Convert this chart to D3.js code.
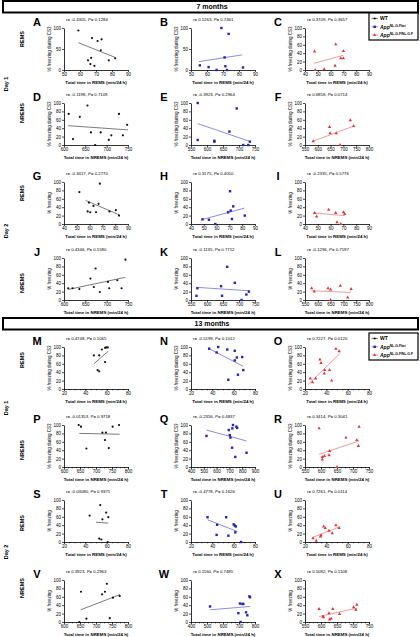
<!DOCTYPE html>
<html><head><meta charset="utf-8">
<script src="https://cdn.jsdelivr.net/npm/d3@7"></script>
<style>body{margin:0;background:#fff} svg{display:block} text{font-family:"Liberation Sans",Arial,sans-serif}</style>
</head><body><svg id="c" width="420" height="637"></svg>
<script>
// ---------- DATA ----------
const sectionTitles = ["7 months", "13 months"];
const rowNames = ["REMS","NREMS","REMS","NREMS","REMS","NREMS","REMS","NREMS"];
const dayNames = ["Day 1","Day 2","Day 1","Day 2"];
const panelLetters = ["A","B","C","D","E","F","G","H","I","J","K","L","M","N","O","P","Q","R","S","T","U","V","W","X"];
const statR = ["-0.4305","0.1263","0.3709","-0.1198","-0.3923","0.6858","-0.3417","0.3175","-0.2335","0.4346","-0.1135","-0.1296",
               "0.4748","-0.5199","0.7227","-0.01353","-0.2356","0.3414","-0.03080","-0.4778","0.7261","0.3923","0.1160","0.5082"];
const statP = ["0.1284","0.7461","0.3657","0.7109","0.2964","0.0714","0.2770","0.4050","0.5776","0.1580","0.7712","0.7597",
               "0.1065","0.1012","0.0120","0.9718","0.4837","0.3041","0.9371","0.1626","0.0114","0.2963","0.7485","0.1108"];
const yLabels = ["% freezing during CS3","% freezing during CS3","% freezing","% freezing",
                 "% freezing during CS3","% freezing during CS3","% freezing","% freezing"];
const xLabels = ["Total time in REMS (min/24 h)","Total time in NREMS (min/24 h)"];
const legendNames = ["WT","App","App"];
const legendSups = ["","NL-G-F/wt","NL-G-F/NL-G-F"];

const ticks50_90 = [50,60,70,80,90], ticks40_90 = [40,50,60,70,80,90];
const ticks600_750 = [600,650,700,750], ticks550_750 = [550,600,650,700,750], ticks550_800 = [550,600,650,700,750,800];
const ticks20_80 = [20,40,60,80], ticks600_800 = [600,650,700,750,800], ticks400_900 = [400,500,600,700,800,900], ticks400_800 = [400,500,600,700,800];
const xTickSets = [ticks50_90,ticks50_90,ticks40_90, ticks600_750,ticks550_750,ticks550_800,
                   ticks40_90,ticks40_90,ticks40_90, ticks600_750,ticks550_750,ticks550_800,
                   ticks20_80,ticks20_80,ticks20_80, ticks600_800,ticks400_900,ticks550_750,
                   ticks20_80,ticks20_80,ticks20_80, ticks600_800,ticks400_800,ticks550_750];
const yTicks50 = [0,50,100], yTicks20 = [0,20,40,60,80,100];

const ptsA = [[59,94],[65,23],[66.5,14],[67,29],[67.5,76],[69,10],[71,69],[73,47],[73.5,73],[78,23],[82,28]];
const ptsB = [[55.5,11],[61,7],[66,0],[69,100],[71,30],[71.5,9],[72.5,0],[73.5,86],[82.5,6]];
const ptsC = [[47.5,44],[48,0],[55,2],[63.5,10],[64,61],[68,28],[70,28],[70,45]];
const ptsD = [[611,74],[621,14],[637,67],[655,94],[663,30],[673,0],[686,30],[705,12],[711,23],[729,74],[738,23],[748,48]];
const ptsE = [[571,100],[571,12],[623,10],[623,8],[670,32],[693,87],[713,0],[729,0],[734,8]];
const ptsF = [[582,9],[646,43],[648,28],[672,28],[687,0],[727,59],[740,45]];
const ptsG = [[52,76],[58.5,30],[59.5,51],[60.5,28],[63,43],[65,28],[68,96],[67,48],[75.5,30],[80.5,33],[83,20]];
const ptsH = [[49,11],[54,10],[59,0],[69,28],[70.5,78],[71,32],[72,12],[73,42],[82,20]];
const ptsI = [[47.5,26],[49,18],[58.5,34],[64,26],[65,4],[68,0],[70,28],[71,24]];
const ptsJ = [[610,28],[620,28],[636,26],[662,51],[670,31],[674,75],[684,19],[703,43],[706,28],[725,47],[735,28],[744,96]];
const ptsK = [[567,10],[570,28],[644,33],[647,10],[663,79],[687,41],[708,0],[723,13],[731,20]];
const ptsL = [[576,28],[586,20],[640,28],[650,25],[650,0],[688,34],[717,6],[730,26]];
const ptsM = [[48,80],[51.5,45],[53,42],[53,80],[55.5,94],[58.5,64],[58.5,98],[59.5,99],[61,99]];
const ptsN = [[37,96],[44,87],[45.5,100],[54,94],[55,22],[61,91],[61,68],[63,75],[64,34],[68,76],[69,45]];
const ptsO = [[25,25],[27,16],[30,25],[34,70],[35,62],[38,37],[38.5,45],[43,45],[45,20],[49,96],[52,90]];
const ptsP = [[646,100],[653,96],[670,44],[720,82],[728,64],[731,82],[740,45],[752,96],[772,100]];
const ptsQ = [[521,74],[695,88],[703,76],[708,70],[721,46],[723,92],[728,100],[746,24],[754,96],[761,93],[834,34]];
const ptsR = [[594,92],[604,24],[604,18],[611,26],[625,28],[627,38],[650,0],[678,70],[712,64],[717,50],[719,96]];
const ptsS = [[44,63],[53,8],[54,88],[55,6],[56,54],[59.5,70],[61,0],[61.5,59]];
const ptsT = [[35.5,59],[44,17],[44.5,41],[53,59],[55,15],[60,42],[61,39],[61.5,23],[62,37],[67,0]];
const ptsU = [[27.5,9],[30.5,3],[34.5,13],[35,16],[37.5,37],[39,33],[42.5,27],[45.5,21],[49,40],[52,33]];
const ptsV = [[648,0],[653,72],[670,8],[719,66],[728,72],[734,91],[743,9],[753,58],[774,62]];
const ptsW = [[519,37],[696,21],[706,44],[710,0],[721,43],[727,43],[744,23],[752,16],[765,61],[769,59]];
const ptsX = [[594,31],[606,13],[608,11],[625,21],[627,6],[632,8],[637,31],[658,19],[702,35],[709,29],[712,41]];
const panelPoints = [ptsA,ptsB,ptsC,ptsD,ptsE,ptsF,ptsG,ptsH,ptsI,ptsJ,ptsK,ptsL,ptsM,ptsN,ptsO,ptsP,ptsQ,ptsR,ptsS,ptsT,ptsU,ptsV,ptsW,ptsX];

// fitted regression lines [x1, y1, x2, y2]
const fitLines = [[59,65,82,30],[55,20,82,36],[47,16,70,35],[610,46,750,36],[571,51,732,9],[582,9,740,45],
                  [57,56,83,22],[48,10,82,38],[47.5,26,71,20],[610,25,744,54],[570,30,731,22],[576,22,730,18],
                  [48,60,61.5,90],[37,96,69,54],[23,11,53,85],[648,80,774,78],[521,88,834,62],[594,30,719,62],
                  [50,47,61.5,45],[35.5,53,63.5,25],[27.5,11,53,37],[652,29,774,65],[519,29,769,37],[594,13,712,33]];

// ---------- LAYOUT ----------
const svg = d3.select("#c");
const colX = [64,191,305], PW = 64, PH = 42;
const rowTop = [28,103,182,258,347,425,500,580];
const rowLabelY = [39,113,193,283,360,450,523,588];
const dayY = [84,231,408,552];
const boxY = [1,318];
const legendY = [13,333];
const ptColor = ["#111","#2424b6","#e2363c"];
const lnColor = ["#444","#5c5cd2","#e87070"];

// section boxes
sectionTitles.forEach((t,i)=>{
  svg.append("rect").attr("x",3).attr("y",boxY[i]).attr("width",415).attr("height",11.5)
    .attr("fill","#fff").attr("stroke","#000").attr("stroke-width",2);
  svg.append("text").attr("x",212).attr("y",boxY[i]+8.3).attr("text-anchor","middle")
    .attr("font-size",7).attr("font-weight","bold").text(t);
});

// row labels and day labels
rowNames.forEach((n,r)=>{
  svg.append("text").attr("transform",`translate(24,${rowLabelY[r]}) rotate(-90)`)
    .attr("text-anchor","middle").attr("font-size",5.5).attr("font-weight","bold").text(n);
});
dayNames.forEach((n,i)=>{
  svg.append("text").attr("transform",`translate(8,${dayY[i]}) rotate(-90)`)
    .attr("text-anchor","middle").attr("font-size",5.5).attr("font-weight","bold").text(n);
});

function marker(g, type, cx, cy){
  if(type===0){
    g.append("circle").attr("cx",cx).attr("cy",cy).attr("r",1.1).attr("fill",ptColor[0]);
  } else if(type===1){
    g.append("rect").attr("x",cx-1.2).attr("y",cy-1.2).attr("width",2.4).attr("height",2.4).attr("fill",ptColor[1]);
  } else {
    g.append("path").attr("d",d3.symbol(d3.symbolTriangle,5)()).attr("transform",`translate(${cx},${cy})`).attr("fill",ptColor[2]);
  }
}

function styleAxis(g){
  g.attr("font-size",4.5).attr("font-family",'"Liberation Sans",Arial,sans-serif');
  g.select(".domain").attr("stroke-width",0.8);
  g.selectAll(".tick line").attr("stroke-width",0.7);
}

for(let i=0;i<24;i++){
  const row = Math.floor(i/3), col = i%3;
  const x0 = colX[col], top = rowTop[row], bot = top+PH;
  const xt = xTickSets[i];
  const x = d3.scaleLinear().domain([xt[0], xt[xt.length-1]]).range([x0, x0+PW]);
  const y = d3.scaleLinear().domain([0,100]).range([bot, top]);
  const g = svg.append("g");
  const yt = (row===0 && col<2) ? yTicks50 : yTicks20;

  // minor ticks on bottom section
  if(row>=4){
    const step = (xt[1]-xt[0])/4, minors=[];
    for(let v=xt[0]; v<=xt[xt.length-1]+1e-9; v+=step) minors.push(v);
    const mg = g.append("g").attr("transform",`translate(0,${bot})`)
      .call(d3.axisBottom(x).tickValues(minors).tickSize(1.3).tickSizeOuter(0).tickFormat(""));
    mg.select(".domain").remove();
    mg.selectAll(".tick line").attr("stroke-width",0.6);
  }
  const ya = g.append("g").attr("transform",`translate(${x0},0)`)
    .call(d3.axisLeft(y).tickValues(yt).tickSize(2).tickSizeOuter(0).tickPadding(1));
  styleAxis(ya);
  const xa = g.append("g").attr("transform",`translate(0,${bot})`)
    .call(d3.axisBottom(x).tickValues(xt).tickSize(2).tickSizeOuter(0).tickPadding(1));
  styleAxis(xa);

  // axis titles
  g.append("text").attr("x",x0+PW/2).attr("y",bot+13.5).attr("text-anchor","middle")
    .attr("font-size",4.4).attr("font-weight","bold").text(xLabels[row%2]);
  g.append("text").attr("transform",`translate(${x0-13},${top+PH/2}) rotate(-90)`)
    .attr("text-anchor","middle").attr("font-size",4.5).text(yLabels[row]);

  // stats
  const st = g.append("text").attr("x",x0+2).attr("y",top-7).attr("font-size",4.3);
  st.append("tspan").text(`r= ${statR[i]}, `);
  st.append("tspan").attr("font-style","italic").text("P");
  st.append("tspan").text(`= ${statP[i]}`);

  // panel letter
  g.append("text").attr("x",x0-27).attr("y",top-2).attr("text-anchor","middle")
    .attr("font-size",11).attr("font-weight","bold").text(panelLetters[i]);

  // regression line
  const f = fitLines[i];
  g.append("line").attr("x1",x(f[0])).attr("y1",y(f[1])).attr("x2",x(f[2])).attr("y2",y(f[3]))
    .attr("stroke",lnColor[col]).attr("stroke-width",0.7);

  // points
  panelPoints[i].forEach(p=>marker(g,col,x(p[0]),y(p[1])));
}

// legends
legendY.forEach(y0=>{
  const lg = svg.append("g");
  lg.append("rect").attr("x",369).attr("y",y0).attr("width",49).attr("height",27)
    .attr("fill","#fff").attr("stroke","#000").attr("stroke-width",1.2);
  legendNames.forEach((n,k)=>{
    const yy = y0+5.5+k*8.3;
    lg.append("line").attr("x1",371.5).attr("x2",378).attr("y1",yy).attr("y2",yy)
      .attr("stroke",lnColor[k]).attr("stroke-width",0.7);
    marker(lg,k,374.7,yy);
    const t = lg.append("text").attr("x",380).attr("y",yy+1.8).attr("font-size",5).attr("font-weight","bold");
    if(k===0){ t.text(n); }
    else {
      t.append("tspan").attr("font-style","italic").text(n);
      t.append("tspan").attr("font-size",3.3).attr("dy",-1.8).text(legendSups[k]);
    }
  });
});
</script></body></html>
